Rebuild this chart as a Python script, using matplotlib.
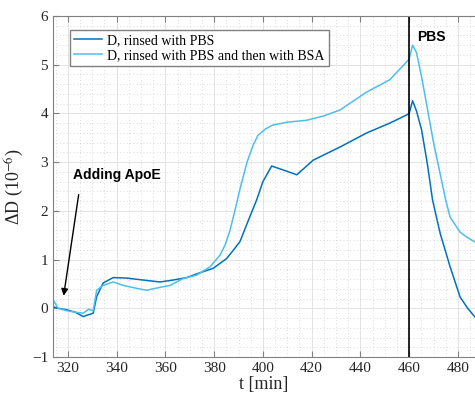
import numpy as np
import matplotlib.pyplot as plt
from matplotlib.ticker import MultipleLocator

# values
t_pbs = [314, 316, 319.5, 323, 326.3, 328, 330.4, 331.8, 334.5, 338.6, 344.1, 350.9,
         357.8, 363.2, 368.7, 374.2, 379.6, 385.1, 388, 390.6, 394, 397.4, 400, 403.6,
         408.3, 413.9, 420.6, 431.6, 442.6, 452, 459, 460, 461.4, 463, 465.1,
         467.5, 469.6, 472.7, 476.8, 480.9, 484, 487]
d_pbs = [0.03, 0.0, -0.03, -0.08, -0.17, -0.14, -0.1, 0.24, 0.52, 0.63, 0.62, 0.58,
         0.54, 0.58, 0.63, 0.73, 0.82, 1.02, 1.2, 1.37, 1.8, 2.22, 2.6, 2.92,
         2.84, 2.74, 3.04, 3.31, 3.6, 3.8, 3.97, 4.0, 4.26, 4.05, 3.66,
         2.95, 2.22, 1.54, 0.85, 0.23, 0.0, -0.18]

t_bsa = [314, 316, 319.5, 323, 326.3, 328.5, 330.4, 331.8, 334.5, 338.6, 342.7, 348.2,
         352.3, 357.8, 361.9, 367.3, 372.8, 378.3, 382.4, 384.5, 386.5, 388.5, 390.6,
         393.5, 396, 398, 401, 404, 410, 418, 425, 431.6, 442.6, 452, 459, 460, 461.4,
         463, 465.1, 470, 475, 476.8, 480.9, 484, 487]
d_bsa = [0.17, 0.0, -0.05, -0.08, -0.1, -0.02, -0.05, 0.37, 0.47, 0.54, 0.47, 0.41,
         0.37, 0.43, 0.47, 0.61, 0.68, 0.85, 1.09, 1.3, 1.6, 2.0, 2.45,
         3.0, 3.35, 3.55, 3.68, 3.76, 3.82, 3.86, 3.95, 4.07, 4.44, 4.69, 5.06, 5.12, 5.4,
         5.25, 4.75, 3.4, 2.22, 1.87, 1.56, 1.45, 1.36]

labels = ['D, rinsed with PBS', 'D, rinsed with PBS and then with BSA']
colors = ['#0072BD', '#4DBEEE']

plt.rcParams['font.family'] = ['Liberation Serif', 'DejaVu Serif']
plt.rcParams['mathtext.fontset'] = 'stix'

fig = plt.figure(figsize=(4.75, 3.99), dpi=100)
ax = fig.add_axes([53/475, 42/399, 1 - 53/475, 341/399])

ax.plot(t_pbs, d_pbs, color=colors[0], lw=1.1, label=labels[0])
ax.plot(t_bsa, d_bsa, color=colors[1], lw=1.1, label=labels[1])
ax.axvline(460, color='black', lw=1.2)

ax.set_xlim(313.9, 487)
ax.set_ylim(-1, 6)
ax.xaxis.set_major_locator(MultipleLocator(20))
ax.xaxis.set_minor_locator(MultipleLocator(5))
ax.yaxis.set_major_locator(MultipleLocator(1))
ax.yaxis.set_minor_locator(MultipleLocator(0.2))
ax.grid(which='major', color='#e3e3e3', lw=0.7)
ax.grid(which='minor', color='#d0d0d0', lw=0.6, ls=(0, (1, 3)))
ax.set_axisbelow(True)

for s in ['left', 'bottom', 'top']:
    ax.spines[s].set_color('#808080')
    ax.spines[s].set_linewidth(0.8)
ax.spines['right'].set_visible(False)
ax.tick_params(which='both', direction='in', top=True, colors='#808080',
               labelcolor='#262626', labelsize=11)
ax.tick_params(which='major', length=4)
ax.tick_params(which='minor', length=0)

ax.set_xlabel('t [min]', fontsize=13, color='#262626', labelpad=1)
ax.set_ylabel('\u0394D (10$^{\\mathrm{-6}}$)', fontsize=13, color='#262626', labelpad=4)

ax.legend(loc='upper left', bbox_to_anchor=(0.04, 0.96), fontsize=10,
          frameon=True, fancybox=False, edgecolor='#808080', framealpha=1,
          borderpad=0.3, handlelength=2.0, handletextpad=0.4,
          labelspacing=0.15, borderaxespad=0)

ax.annotate('', xy=(318.1, 0.2), xytext=(324.6, 2.39),
            arrowprops=dict(arrowstyle='-|>', color='black', lw=1, mutation_scale=10))
ax.text(321.9, 2.74, 'Adding ApoE', fontsize=10, fontweight='bold',
        family='Liberation Sans', va='center', ha='left')
ax.text(463.3, 5.57, 'PBS', fontsize=10, fontweight='bold',
        family='Liberation Sans', va='center', ha='left')

fig.savefig('out.png', dpi=100)
